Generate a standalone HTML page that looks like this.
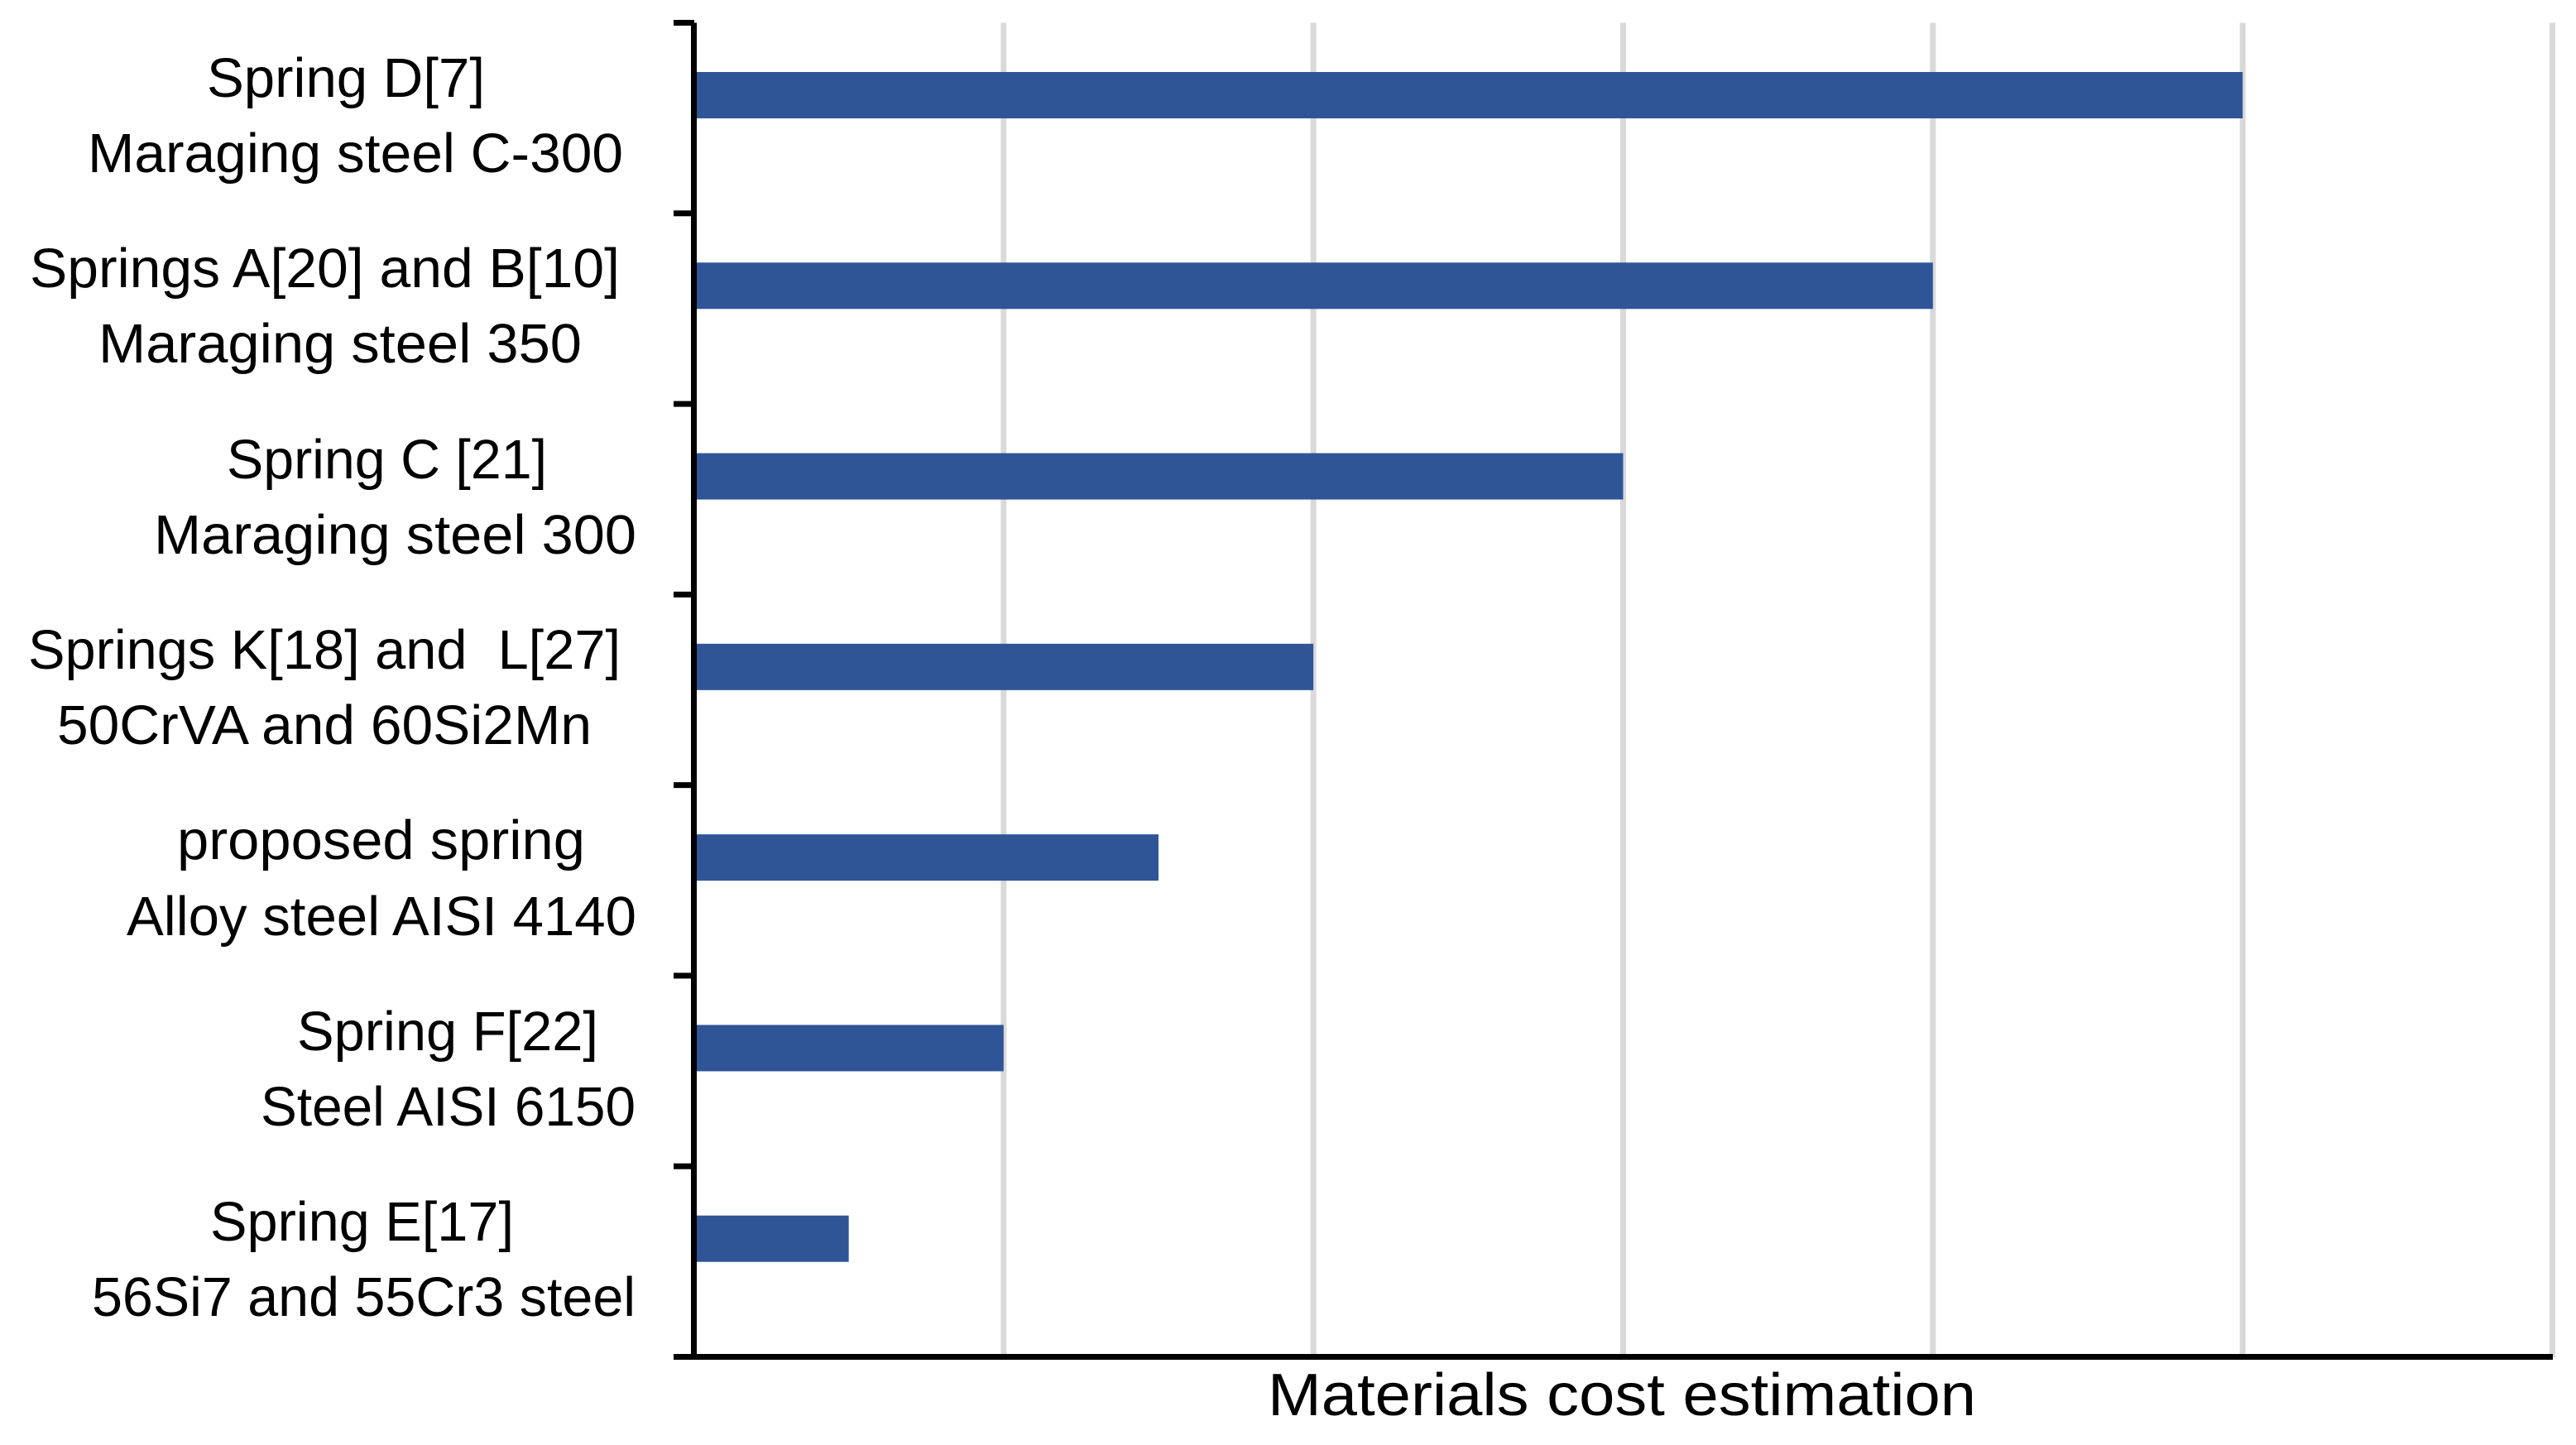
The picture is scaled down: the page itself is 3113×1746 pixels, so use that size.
<!DOCTYPE html>
<html lang="en">
<head>
<meta charset="utf-8">
<title>Materials cost estimation</title>
<style>
html,body{margin:0;padding:0;background:#fff}
svg{display:block}
text{font-family:"Liberation Sans",sans-serif;fill:#000}
.cat{font-size:67px}
.title{font-size:72px}
</style>
</head>
<body>
<svg id="chart" xmlns="http://www.w3.org/2000/svg" width="3113" height="1746" viewBox="0 0 3113 1746">
<rect x="0" y="0" width="3113" height="1746" fill="#fff"/>
<g id="grid"></g>
<g id="bars"></g>
<g id="axes"></g>
<g>
<text class="cat" x="250" y="117" textLength="336" lengthAdjust="spacingAndGlyphs">Spring D[7]</text>
<text class="cat" x="106" y="208" textLength="647" lengthAdjust="spacingAndGlyphs">Maraging steel C-300</text>
<text class="cat" x="36" y="347" textLength="713" lengthAdjust="spacingAndGlyphs">Springs A[20] and B[10]</text>
<text class="cat" x="119" y="438" textLength="584" lengthAdjust="spacingAndGlyphs">Maraging steel 350</text>
<text class="cat" x="274" y="578" textLength="387" lengthAdjust="spacingAndGlyphs">Spring C [21]</text>
<text class="cat" x="186" y="669" textLength="583" lengthAdjust="spacingAndGlyphs">Maraging steel 300</text>
<text class="cat" x="34" y="808" textLength="716" lengthAdjust="spacingAndGlyphs" xml:space="preserve">Springs K[18] and  L[27]</text>
<text class="cat" x="69" y="899" textLength="646" lengthAdjust="spacingAndGlyphs">50CrVA and 60Si2Mn</text>
<text class="cat" x="214" y="1038" textLength="493" lengthAdjust="spacingAndGlyphs">proposed spring</text>
<text class="cat" x="153" y="1130" textLength="616" lengthAdjust="spacingAndGlyphs">Alloy steel AISI 4140</text>
<text class="cat" x="359" y="1269" textLength="364" lengthAdjust="spacingAndGlyphs">Spring F[22]</text>
<text class="cat" x="315" y="1360" textLength="453" lengthAdjust="spacingAndGlyphs">Steel AISI 6150</text>
<text class="cat" x="254" y="1499" textLength="367" lengthAdjust="spacingAndGlyphs">Spring E[17]</text>
<text class="cat" x="111" y="1590" textLength="657" lengthAdjust="spacingAndGlyphs">56Si7 and 55Cr3 steel</text>
</g>
<text class="title" x="1532" y="1710" textLength="856" lengthAdjust="spacingAndGlyphs">Materials cost estimation</text>
</svg>
<script>
var categories = ["Spring D[7]", "Springs A[20] and B[10]", "Spring C [21]", "Springs K[18] and L[27]", "proposed spring", "Spring F[22]", "Spring E[17]"];
var costValues = [5, 4, 3, 2, 1.5, 1, 0.5];
var xTicks = [0, 1, 2, 3, 4, 5, 6];

var NS = "http://www.w3.org/2000/svg";
var plotLeft = 838.5, plotRight = 3084.5, plotTop = 27.5, plotBottom = 1639.5;
var xMax = xTicks[xTicks.length - 1];
function xScale(v) { return plotLeft + (v / xMax) * (plotRight - plotLeft); }
function bandTop(i) { return plotTop + i * (plotBottom - plotTop) / categories.length; }
function barCenter(i) { return bandTop(i) + 87.5; }
function rect(parent, x, y, w, h, fill) {
  var r = document.createElementNS(NS, "rect");
  r.setAttribute("x", x);
  r.setAttribute("y", y);
  r.setAttribute("width", w);
  r.setAttribute("height", h);
  r.setAttribute("fill", fill);
  parent.appendChild(r);
  return r;
}
var grid = document.getElementById("grid");
var bars = document.getElementById("bars");
var axes = document.getElementById("axes");

xTicks.forEach(function (t) {
  if (t === 0) return;
  var g = rect(grid, xScale(t) - 3.5, plotTop, 7, plotBottom - plotTop + 0.5, "#d9d9d9");
  
  
});

costValues.forEach(function (v, i) {
  var b = rect(bars, plotLeft, barCenter(i) - 28, xScale(v) - plotLeft, 56, "#2f5597");
  
  
});

var yAxis = rect(axes, plotLeft - 3.5, plotTop, 7, plotBottom - plotTop, "#000");



var xAxis = rect(axes, 814, plotBottom - 3.5, plotRight + 0.5 - 814, 7, "#000");



categories.forEach(function (c, i) {
  var t = rect(axes, 814, bandTop(i) - 3.5, 25, 7, "#000");
  
  
});
</script>
</body>
</html>
